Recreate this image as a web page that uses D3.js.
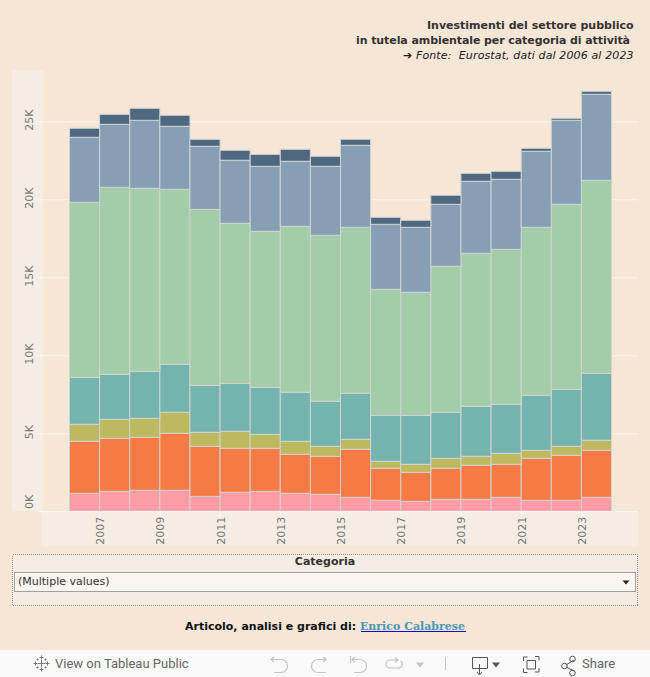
<!DOCTYPE html>
<html><head><meta charset="utf-8">
<script src="https://cdn.jsdelivr.net/npm/d3@7"></script>
<style>html,body{margin:0;padding:0;background:#f5e6d6}svg{display:block}text{font-family:"DejaVu Sans",sans-serif}</style>
</head><body><div id="c"></div>
<script>
const years=[2006,2007,2008,2009,2010,2011,2012,2013,2014,2015,2016,2017,2018,2019,2020,2021,2022,2023];
const pink=[1154,1280,1346,1346,960,1218,1280,1154,1090,897,705,640,770,770,897,705,705,897];
const orange=[3333,3397,3397,3654,3205,2821,2756,2500,2436,3077,2051,1859,1987,2179,2115,2692,2885,3013];
const olive=[1090,1218,1218,1346,897,1090,897,833,641,641,449,513,641,577,705,513,577,641];
const teal=[3013,2885,3013,3077,3013,3077,3013,3141,2885,2949,2949,3141,2949,3205,3141,3526,3654,4295];
const green=[11219,11988,11731,11219,11283,10257,10000,10641,10641,10641,8077,7885,9359,9808,9936,10769,11859,12372];
const blue=[4167,4038,4359,4038,4038,4038,4167,4167,4423,5256,4167,4167,3974,4615,4487,4872,5385,5513];
const slate=[577,641,769,705,449,641,769,769,641,385,449,449,577,513,513,192,128,192];
const seriesNames=["pink","orange","olive","teal","green","blue","slate"];
const seriesValues=[pink,orange,olive,teal,green,blue,slate];
const seriesColors=["#fe9ca6","#f67a43","#bdb95e","#75b4ae","#a3cda8","#869fb4","#4e6880"];
const yTicks=[0,5000,10000,15000,20000,25000];
const xTicks=[2007,2009,2011,2013,2015,2017,2019,2021,2023];
const titleLines=["Investimenti del settore pubblico","in tutela ambientale per categoria di attività"];
const sourceLine="➔ Fonte:  Eurostat, dati dal 2006 al 2023";

const W=650,H=677;
const svg=d3.select("#c").append("svg").attr("width",W).attr("height",H).attr("viewBox",`0 0 ${W} ${H}`);
const x=d3.scaleLinear().domain([2006,2024]).range([69.5,611.5]);
const y=d3.scaleLinear().domain([0,25000]).range([511.3,121.3]);

svg.append("rect").attr("width",W).attr("height",H).attr("fill","#f5e6d6");
// axis panels
svg.append("rect").attr("x",12).attr("y",70).attr("width",31).attr("height",441).attr("fill","#f5ede3");
svg.append("rect").attr("x",42).attr("y",511).attr("width",596).attr("height",35).attr("fill","#f5ede3");

// title
const t=svg.append("g").attr("font-size",11).attr("fill","#333");
t.append("text").attr("x",633.5).attr("y",29).attr("text-anchor","end").attr("font-weight","bold").text(titleLines[0]);
t.append("text").attr("x",356).attr("y",44).attr("font-weight","bold").attr("textLength",274).text(titleLines[1]);
t.append("text").attr("x",403).attr("y",59).attr("font-style","italic").attr("fill","#222").attr("textLength",230.5).style("white-space","pre").text(sourceLine);

// grid + y axis
const yAxis=d3.axisLeft(y).tickValues(yTicks).tickFormat(d=>(d/1000)+"K").tickSize(0).tickPadding(0);
const gy=svg.append("g").call(yAxis);
gy.select(".domain").remove();
gy.selectAll(".tick line").attr("x1",37).attr("x2",637.7).attr("stroke","#fbf6ef").attr("stroke-width",1);
gy.selectAll(".tick text").attr("fill","#777").attr("font-size",11).attr("text-anchor","middle")
  .attr("dy",null).attr("x",null).attr("y",null)
  .attr("transform",d=>`translate(33,${d===0?-10:-1.6}) rotate(-90)`);

// bars
const table=years.map((yr,i)=>{const o={year:yr};seriesNames.forEach((n,k)=>o[n]=seriesValues[k][i]);return o;});
const stacked=d3.stack().keys(seriesNames)(table);
svg.append("g").selectAll("g").data(stacked).join("g").attr("fill",(d,i)=>seriesColors[i])
 .selectAll("rect").data(d=>d).join("rect")
 .attr("x",d=>x(d.data.year)).attr("width",d=>x(d.data.year+1)-x(d.data.year))
 .attr("y",d=>y(d[1])).attr("height",d=>y(d[0])-y(d[1]))
 .attr("stroke","#d3d3d3").attr("stroke-width",1);

// x axis
const xAxis=d3.axisBottom(x).tickValues(xTicks).tickFormat(d3.format("d")).tickSize(5).tickPadding(0);
const gx=svg.append("g").attr("transform","translate(0,511.3)").call(xAxis);
gx.select(".domain").remove();
gx.selectAll(".tick line").attr("stroke","#fbf6ef");
gx.selectAll(".tick text").attr("fill","#777").attr("font-size",11).attr("text-anchor","middle")
  .attr("dy",null).attr("y",null).attr("x",null).attr("transform","translate(4,19.5) rotate(-90)");
// baseline
svg.append("line").attr("x1",37).attr("x2",637.7).attr("y1",511.5).attr("y2",511.5).attr("stroke","#fbf6ef");

// filter
const fl=svg.append("g");
fl.append("rect").attr("x",12).attr("y",554).attr("width",626).attr("height",52).attr("fill","#f5ede3");
fl.append("rect").attr("x",12.5).attr("y",554.5).attr("width",625).attr("height",51).attr("fill","none").attr("stroke","#8f8f8f").attr("stroke-dasharray","1 1").attr("shape-rendering","crispEdges");
fl.append("text").attr("x",325).attr("y",565).attr("text-anchor","middle").attr("font-size",11).attr("font-weight","bold").attr("fill","#333").text("Categoria");
fl.append("rect").attr("x",14.5).attr("y",572.5).attr("width",621).attr("height",19).attr("fill","#faf6ef").attr("stroke","#a0a0a0");
fl.append("text").attr("x",18).attr("y",585).attr("font-size",11).attr("fill","#333").text("(Multiple values)");
fl.append("path").attr("d","M622.5 580.5h7l-3.5 4z").attr("fill","#222");

// credit
const cr=svg.append("text").attr("x",325).attr("y",629.5).attr("text-anchor","middle").attr("font-size",11).attr("font-weight","bold").attr("fill","#111");
cr.append("tspan").text("Articolo, analisi e grafici di: ");
cr.append("tspan").attr("fill","#4a97b3").attr("font-family","'DejaVu Serif',serif").text("Enrico Calabrese");
svg.append("line").attr("x1",361).attr("x2",466).attr("y1",631.5).attr("y2",631.5).attr("stroke","#0000ee");

// toolbar
const tb=svg.append("g");
tb.append("rect").attr("y",650).attr("width",W).attr("height",27).attr("fill","#f9f9f9");
const plus=(cx,cy,r)=>`M${cx-r} ${cy}h${2*r}M${cx} ${cy-r}v${2*r}`;
const ic=tb.append("g").attr("fill","none").attr("stroke","#777").attr("stroke-width",1);
ic.append("path").attr("d",[[41.5,663.5,3.5],[41.5,657.5,2],[41.5,669.5,2],[35.5,663.5,2],[47.5,663.5,2],[37.5,659.5,1],[45.5,659.5,1],[37.5,667.5,1],[45.5,667.5,1]].map(p=>plus(...p)).join(""));
tb.append("text").attr("x",55).attr("y",668).attr("font-size",13).attr("fill","#666").style("font-family","Roboto").text("View on Tableau Public");
const dis=tb.append("g").attr("fill","none").attr("stroke","#c4c4c4").attr("stroke-width",1.2);
dis.append("path").attr("d","M271 659.5h10a6.5 6.5 0 0 1 0 13h-7M274 657l-3 2.500 3 2.500");
dis.append("path").attr("d","M326 659.500h-8a6.500 6.500 0 0 0 0 13h8M323 657l3 2.500-3 2.500");
dis.append("path").attr("d","M350.500 656v7M352 659.500h8a6.500 6.500 0 0 1 0 13h-6M355 657l-3 2.500 3 2.500");
dis.append("path").attr("d","M398 660h-8a4 4 0 0 0 0 8h8a4 4 0 0 0 3-7M395 657.500l3 2.500-3 2.500");
tb.append("path").attr("d","M416 662.500h8l-4 5z").attr("fill","#c4c4c4");
tb.append("line").attr("x1",445.500).attr("x2",445.500).attr("y1",657).attr("y2",670).attr("stroke","#c4c4c4");
const act=tb.append("g").attr("fill","none").attr("stroke","#555").attr("stroke-width",1);
act.append("path").attr("d","M472.500 657.500h15v11h-15zM479.500 664v10M477 672l2.500 3 2.500-3");
tb.append("path").attr("d","M492 662.500h8l-4 5z").attr("fill","#555");
act.append("path").attr("d","M523.500 661v-4h4M535 656.500h4v4M539 668v4h-4M527.500 672.500h-4v-4M527 660.500h8.500v8.500h-8.500z");
act.append("path").attr("d","M566 665l8-5M566 667l8 4");
act.append("circle").attr("cx",564.500).attr("cy",666).attr("r",2.800);
act.append("circle").attr("cx",572.500).attr("cy",659).attr("r",2.800);
act.append("circle").attr("cx",572.500).attr("cy",673).attr("r",2.800);
tb.append("text").attr("x",582).attr("y",668).attr("font-size",13).attr("fill","#666").style("font-family","Roboto").text("Share");
</script></body></html>
